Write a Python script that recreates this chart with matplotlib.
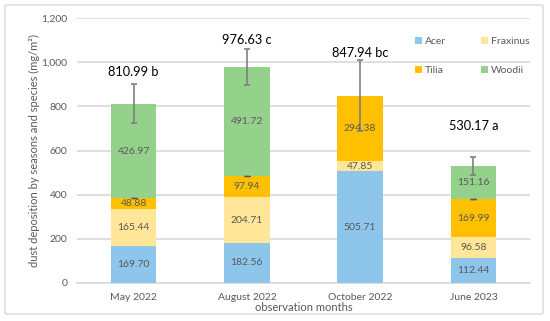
import matplotlib
matplotlib.use("Agg")
import matplotlib.pyplot as plt
from matplotlib.patches import Patch, FancyBboxPatch
import numpy as np

plt.rcParams['font.family'] = ['Lato', 'DejaVu Sans']

months = ["May 2022", "August 2022", "October 2022", "June 2023"]
species = ["Acer", "Fraxinus", "Tilia", "Woodii"]
acer = [169.70, 182.56, 505.71, 112.44]
fraxinus = [165.44, 204.71, 47.85, 96.58]
tilia = [48.88, 97.94, 294.38, 169.99]
woodii = [426.97, 491.72, 0.0, 151.16]
totals = [810.99, 976.63, 847.94, 530.17]
letters = ["b", "c", "bc", "a"]
errors = [88, 82, 160, 40]
colors = ["#8EC5EA", "#FFE699", "#FFC000", "#94D18B"]

fig = plt.figure(figsize=(5.5, 3.21), dpi=100)
# outer border
fig.patches.append(FancyBboxPatch((5/550, 7/321), 538/550, 309/321,
                                  boxstyle="round,pad=0,rounding_size=0.004",
                                  transform=fig.transFigure, fill=False,
                                  edgecolor="#D9D9D9", linewidth=1.0))
ax = fig.add_axes([77/550, 1 - 283/321, 453/550, 265/321])

x = np.arange(len(months))
width = 0.4
bottom = np.zeros(len(months))
series = [acer, fraxinus, tilia, woodii]
for name, vals, col in zip(species, series, colors):
    vals = np.array(vals)
    ax.bar(x, vals, width, bottom=bottom, color=col, label=name, zorder=3)
    for xi, b, v in zip(x, bottom, vals):
        if v > 0:
            ax.text(xi, b + v / 2, f"{v:.2f}", ha="center", va="center",
                    fontsize=7.5, color="#595959", zorder=5)
    bottom = bottom + vals

# small zero-error caps at top of Tilia segments (where Woodii present)
tilia_top = np.array(acer) + np.array(fraxinus) + np.array(tilia)
for xi, t, w in zip(x, tilia_top, woodii):
    if w > 0:
        ax.errorbar(xi, t, yerr=0, fmt="none", ecolor="#595959", capsize=2.5,
                    elinewidth=1, capthick=1, zorder=4)

ax.errorbar(x, totals, yerr=errors, fmt="none", ecolor="#7F7F7F", capsize=2.5,
            elinewidth=1.2, capthick=1.2, zorder=4)

label_y = [957, 1102, 1043, 712]
for xi, t, l, ly in zip(x, totals, letters, label_y):
    ax.text(xi, ly, f"{t:.2f} {l}", ha="center", va="center", fontsize=9.2,
            color="black", zorder=5)

ax.set_xlim(-0.5, 3.5)
ax.set_ylim(0, 1200)
ax.set_yticks(np.arange(0, 1201, 200))
ax.set_yticklabels([f"{v:,}" for v in range(0, 1201, 200)])
ax.set_xticks(x)
ax.set_xticklabels(months)
ax.tick_params(axis="both", length=0, labelsize=7.5, colors="#595959")
ax.tick_params(axis="y", pad=7)
ax.tick_params(axis="x", pad=7)
ax.grid(axis="y", color="#D9D9D9", linewidth=1.2, zorder=0)
ax.set_axisbelow(True)
for s in ["top", "right", "left"]:
    ax.spines[s].set_visible(False)
ax.spines["bottom"].set_color("#D9D9D9")
ax.spines["bottom"].set_linewidth(1.2)

ax.set_ylabel("dust deposition by seasons and species (mg/m²)", fontsize=8,
              color="#595959", labelpad=1)
ax.set_xlabel("observation months", fontsize=8, color="#595959", labelpad=0)

handles = {n: Patch(facecolor=c, label=n) for n, c in zip(species, colors)}
order = ["Acer", "Tilia", "Fraxinus", "Woodii"]
fig.legend(handles=[handles[n] for n in order], ncol=2, loc="upper left",
           bbox_to_anchor=(406/550, 1 - 28/321), frameon=False,
           fontsize=7.5, labelcolor="#595959", handlelength=0.6,
           handleheight=0.6, handletextpad=0.3, columnspacing=3.4,
           labelspacing=1.9)

fig.savefig("out.png", dpi=100)
